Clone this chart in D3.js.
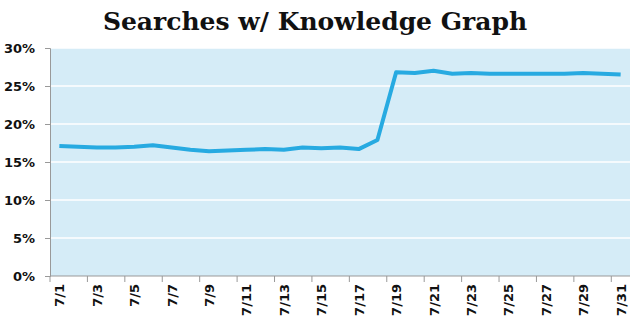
<!DOCTYPE html>
<html>
<head>
<meta charset="utf-8">
<script src="https://cdn.jsdelivr.net/npm/d3@7"></script>
<style>
  body { margin: 0; background: #fff; }
  .axis text { font-family: "DejaVu Sans", sans-serif; font-weight: bold; fill: #111; }
</style>
</head>
<body>
<svg id="chart" width="630" height="322"></svg>
<script>
// July days and share of searches showing a Knowledge Graph panel (%)
var days = d3.range(1, 32).map(function(d) { return "7/" + d; });
var share = [17.1, 17.0, 16.9, 16.9, 17.0, 17.2, 16.9, 16.6, 16.4, 16.5, 16.6, 16.7,
             16.6, 16.9, 16.8, 16.9, 16.7, 17.9, 26.8, 26.7, 27.0, 26.6, 26.7, 26.6,
             26.6, 26.6, 26.6, 26.6, 26.7, 26.6, 26.5];
var yTicks = [0, 5, 10, 15, 20, 25, 30];

var svg = d3.select("#chart");
var margin = {top: 48, right: 0, bottom: 46, left: 50};
var width = 630 - margin.left - margin.right;
var height = 322 - margin.top - margin.bottom;

var x = d3.scaleBand().domain(days).range([0, width]).paddingInner(0).paddingOuter(0);
var y = d3.scaleLinear().domain([0, 30]).range([height, 0]);

svg.append("text")
    .attr("x", 315)
    .attr("y", 30)
    .attr("text-anchor", "middle")
    .style("font-family", "'DejaVu Serif', serif")
    .style("font-weight", "bold")
    .style("font-size", "25px")
    .style("fill", "#111")
    .text("Searches w/ Knowledge Graph");

var g = svg.append("g").attr("transform", "translate(" + margin.left + "," + margin.top + ")");

// plot background
g.append("rect")
    .attr("width", width)
    .attr("height", height)
    .attr("fill", "#d5ecf7");

// gridlines
g.selectAll(".grid")
    .data(yTicks.slice(1))
    .enter().append("line")
    .attr("x1", 0)
    .attr("x2", width)
    .attr("y1", function(d) { return y(d); })
    .attr("y2", function(d) { return y(d); })
    .attr("stroke", "#fff")
    .attr("stroke-width", 1.5);

// y axis
var yAxis = g.append("g")
    .attr("class", "axis")
    .call(d3.axisLeft(y).tickValues(yTicks).tickSize(5).tickPadding(10)
      .tickFormat(function(d) { return d + "%"; }));
yAxis.selectAll("text").style("font-size", "13px");

// x axis: ticks at category boundaries every 2 days, labels at centers
var xg = g.append("g")
    .attr("class", "axis")
    .attr("transform", "translate(0," + height + ")");
xg.append("line")
    .attr("x1", 0).attr("x2", width)
    .attr("stroke", "#999");
var bounds = days.filter(function(d, i) { return i % 2 === 0; });
xg.selectAll(".tick")
    .data(bounds)
    .enter().append("line")
    .attr("x1", function(d) { return x(d); })
    .attr("x2", function(d) { return x(d); })
    .attr("y1", 0)
    .attr("y2", 6)
    .attr("stroke", "#999");
xg.selectAll(".lbl")
    .data(bounds)
    .enter().append("text")
    .attr("transform", function(d) {
      return "translate(" + (x(d) + x.bandwidth() / 2 + 5) + ",8) rotate(-90)";
    })
    .attr("text-anchor", "end")
    .style("font-size", "13px")
    .text(function(d) { return d; });

yAxis.select(".domain").attr("stroke", "#999");
yAxis.selectAll(".tick line").attr("stroke", "#999");

// line
var line = d3.line()
    .x(function(d, i) { return x(days[i]) + x.bandwidth() / 2; })
    .y(function(d) { return y(d); });

g.append("path")
    .datum(share)
    .attr("fill", "none")
    .attr("stroke", "#27aae1")
    .attr("stroke-width", 4)
    .attr("stroke-linejoin", "round")
    .attr("d", line);
</script>
</body>
</html>
